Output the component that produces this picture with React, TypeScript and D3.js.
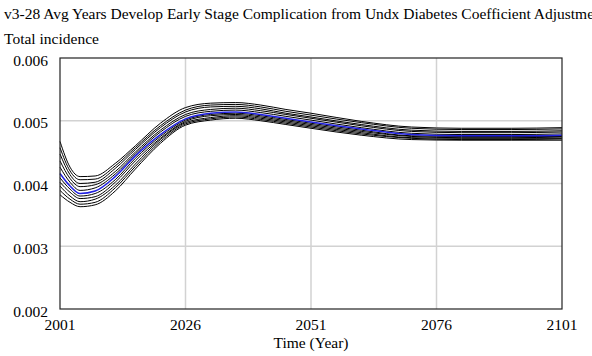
import React from 'react';
import * as d3 from 'd3';

const WIDTH = 592;
const HEIGHT = 356;
const margin = {top: 58, right: 30, bottom: 47, left: 60};
const FONT = '"Liberation Serif", "Times New Roman", serif';
const FONT_SIZE = 15.5;

const chartTitle = 'v3-28 Avg Years Develop Early Stage Complication from Undx Diabetes Coefficient Adjustment';
const seriesLabel = 'Total incidence';
const xLabel = 'Time (Year)';

const xTicks = [2001, 2026, 2051, 2076, 2101];
const yTicks = [0.002, 0.003, 0.004, 0.005, 0.006];

const years = [2001, 2003, 2005, 2008, 2012, 2016, 2021, 2026, 2031, 2036, 2041, 2046, 2051, 2061, 2071, 2081, 2091, 2101];

// highlighted run (blue)
const currentRun = [0.00416, 0.00396, 0.00384, 0.00388, 0.00411, 0.00444, 0.00478, 0.00503, 0.00512, 0.00514, 0.00510, 0.00504, 0.00498, 0.00487, 0.00478, 0.00476, 0.00476, 0.00477];

// sensitivity runs (black)
const runHigh5 = [0.00467, 0.00426, 0.00411, 0.00412, 0.00432, 0.00460, 0.00496, 0.00521, 0.00528, 0.00529, 0.00525, 0.00518, 0.00512, 0.00499, 0.00490, 0.00488, 0.00488, 0.00489];
const runHigh4 = [0.00457, 0.00420, 0.00406, 0.00407, 0.00428, 0.00457, 0.00492, 0.00517, 0.00525, 0.00526, 0.00522, 0.00515, 0.00509, 0.00497, 0.00488, 0.00486, 0.00486, 0.00487];
const runHigh3 = [0.00447, 0.00414, 0.00400, 0.00402, 0.00424, 0.00454, 0.00489, 0.00514, 0.00522, 0.00523, 0.00519, 0.00512, 0.00506, 0.00494, 0.00485, 0.00483, 0.00483, 0.00484];
const runHigh2 = [0.00436, 0.00408, 0.00395, 0.00398, 0.00419, 0.00450, 0.00485, 0.00510, 0.00518, 0.00520, 0.00516, 0.00510, 0.00504, 0.00492, 0.00483, 0.00481, 0.00481, 0.00482];
const runHigh1 = [0.00426, 0.00402, 0.00389, 0.00393, 0.00415, 0.00447, 0.00482, 0.00507, 0.00515, 0.00517, 0.00513, 0.00507, 0.00501, 0.00489, 0.00480, 0.00478, 0.00478, 0.00479];
const runLow1 = [0.00409, 0.00391, 0.00380, 0.00384, 0.00406, 0.00440, 0.00475, 0.00501, 0.00510, 0.00512, 0.00508, 0.00502, 0.00496, 0.00485, 0.00476, 0.00475, 0.00475, 0.00475];
const runLow2 = [0.00402, 0.00386, 0.00376, 0.00379, 0.00402, 0.00436, 0.00472, 0.00499, 0.00508, 0.00510, 0.00506, 0.00500, 0.00494, 0.00483, 0.00475, 0.00473, 0.00473, 0.00474];
const runLow3 = [0.00396, 0.00380, 0.00371, 0.00375, 0.00397, 0.00431, 0.00470, 0.00497, 0.00505, 0.00508, 0.00504, 0.00498, 0.00492, 0.00481, 0.00473, 0.00472, 0.00472, 0.00472];
const runLow4 = [0.00389, 0.00375, 0.00367, 0.00370, 0.00393, 0.00427, 0.00467, 0.00495, 0.00503, 0.00506, 0.00502, 0.00496, 0.00490, 0.00479, 0.00472, 0.00470, 0.00470, 0.00471];
const runLow5 = [0.00382, 0.00370, 0.00363, 0.00366, 0.00388, 0.00423, 0.00464, 0.00493, 0.00501, 0.00504, 0.00500, 0.00494, 0.00488, 0.00477, 0.00470, 0.00469, 0.00469, 0.00469];

const sensitivityRuns = [runHigh5, runHigh4, runHigh3, runHigh2, runHigh1, runLow1, runLow2, runLow3, runLow4, runLow5];

const App = () => {
    const chartWidth = WIDTH - margin.left - margin.right;
    const chartHeight = HEIGHT - margin.top - margin.bottom;

    const xScale = d3.scaleLinear().domain([2001, 2101]).range([margin.left, margin.left + chartWidth]);
    const yScale = d3.scaleLinear().domain([0.002, 0.006]).range([margin.top + chartHeight, margin.top]);

    const line = d3.line<[number, number]>()
        .x(d => xScale(d[0]))
        .y(d => yScale(d[1]))
        .curve(d3.curveMonotoneX);

    const toPoints = (values: number[]) => values.map((v, i) => [years[i], v] as [number, number]);

    const textStyle = {fontFamily: FONT, fontSize: FONT_SIZE, fill: '#000'};

    return (
        <svg width={WIDTH} height={HEIGHT} style={{position: 'absolute', left: 0, top: 0, background: 'white'}}>
            <text x={4} y={19} style={textStyle}>{chartTitle}</text>
            <text x={4} y={44} style={textStyle}>{seriesLabel}</text>

            {/* grid */}
            {xTicks.slice(1, -1).map(t => (
                <line key={`gx${t}`} x1={xScale(t)} x2={xScale(t)} y1={margin.top} y2={margin.top + chartHeight}
                      stroke="#d2d2d2" strokeWidth={1.5}/>
            ))}
            {yTicks.slice(1, -1).map(t => (
                <line key={`gy${t}`} x1={margin.left} x2={margin.left + chartWidth} y1={yScale(t)} y2={yScale(t)}
                      stroke="#d2d2d2" strokeWidth={1.5}/>
            ))}

            {/* runs */}
            {sensitivityRuns.map((run, i) => (
                <path key={`run${i}`} d={line(toPoints(run)) || ''} fill="none" stroke="#000" strokeWidth={1}/>
            ))}
            <path d={line(toPoints(currentRun)) || ''} fill="none" stroke="#2020e0" strokeWidth={1.5}/>

            {/* frame */}
            <rect x={margin.left} y={margin.top} width={chartWidth} height={chartHeight}
                  fill="none" stroke="#222" strokeWidth={1.2}/>

            {yTicks.map(t => (
                <text key={`ty${t}`} x={48} y={yScale(t) + 7.5} style={textStyle} textAnchor="end">
                    {d3.format('.3f')(t)}
                </text>
            ))}
            {xTicks.map(t => (
                <text key={`tx${t}`} x={xScale(t)} y={330} style={textStyle} textAnchor="middle">{t}</text>
            ))}
            <text x={margin.left + chartWidth / 2} y={348} style={textStyle} textAnchor="middle">{xLabel}</text>
        </svg>
    );
};

export default App;
